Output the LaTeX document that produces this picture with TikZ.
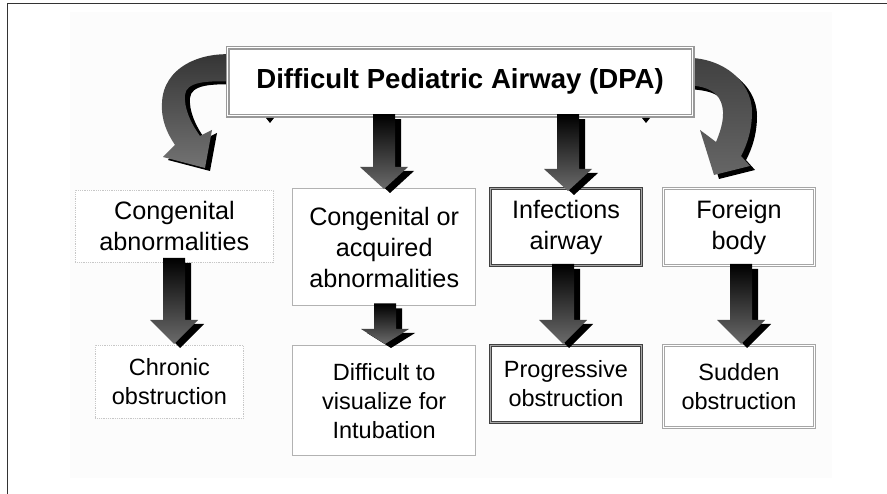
\documentclass[tikz,border=0pt]{standalone}
\usepackage{fontspec}
\setmainfont{Liberation Sans}
\usetikzlibrary{calc}
\tikzset{
 basebox/.style={rectangle, anchor=north west, align=center, inner sep=0pt, fill=white},
 faintbox/.style={basebox, draw=black!22, line width=0.8pt, densely dotted},
 greybox/.style={basebox, draw=black!30, line width=1.4pt},
 greydouble/.style={basebox, draw=black!35, double=white, double distance=1pt, line width=1pt},
 darkbox/.style={basebox, draw=black!75, double=black!35, double distance=1pt, line width=1pt},
 titlebox/.style={basebox, draw=black!40, double=white, double distance=1.5pt, line width=1.2pt},
 toptext/.style={font=\fontsize{25.2}{31}\selectfont},
 lowtext/.style={font=\fontsize{23.5}{29}\selectfont},
 arrowshade/.style={top color=black, bottom color=black!58},
 frameline/.style={draw=black!80, line width=1pt},
}
% block arrow: #1 x centre (pt), #2 from point, #3 to point (tip), #4 head length (pt)
\newcommand\blockarr[4]{%
 \fill[black] let \p1=(#2), \p2=(#3) in
   (#1pt-5pt,\y1-5pt) -- (#1pt+17pt,\y1-5pt) -- (#1pt+17pt,\y2+#4pt-4pt) -- (#1pt+30pt,\y2+#4pt-4pt)
   -- (#1pt+6pt,\y2-4pt) -- (#1pt-18pt,\y2+#4pt-4pt) -- (#1pt-5pt,\y2+#4pt-4pt) -- cycle;
 \shade[arrowshade] let \p1=(#2), \p2=(#3) in
   (#1pt-11pt,\y1) -- (#1pt+11pt,\y1) -- (#1pt+11pt,\y2+#4pt) -- (#1pt+24pt,\y2+#4pt)
   -- (#1pt,\y2) -- (#1pt-24pt,\y2+#4pt) -- (#1pt-11pt,\y2+#4pt) -- cycle;
}
\begin{document}
\begin{tikzpicture}[x=1pt,y=-1pt]
\useasboundingbox (0,0) rectangle (887,494);
\fill[white] (0,0) rectangle (887,494);
\fill[black!1] (70,12) rectangle (832,478);
\draw[frameline] (7,494) -- (7,4) -- (887,4);

% curved arrows (behind the title)
\fill[black] (245,58) .. controls (205,53) and (168,71) .. (167,106)
  .. controls (166,122) and (172,136) .. (180,147)
  -- (168,160) -- (210,171) -- (217,133) -- (205,139)
  .. controls (195,125) and (189,111) .. (190,98)
  .. controls (191,85) and (210,83) .. (245,85) -- cycle;
\shade[top color=black!80, bottom color=black!55] (240,55) .. controls (200,50) and (163,68) .. (162,103)
  .. controls (161,120) and (167,133) .. (175,145)
  -- (163,157) -- (205,168) -- (212,130) -- (200,136)
  .. controls (190,122) and (184,108) .. (185,95)
  .. controls (186,82) and (205,80) .. (240,82) -- cycle;

\fill[black] (680,62) .. controls (724,59) and (757,84) .. (757,116)
  .. controls (757,134) and (752,149) .. (746,160)
  -- (755,170) -- (719,179) -- (705,134) -- (721,147)
  .. controls (726,134) and (731,119) .. (726,106)
  .. controls (721,94) and (709,89) .. (680,89) -- cycle;
\shade[top color=black!75, bottom color=black!60] (680,58) .. controls (720,55) and (752,80) .. (752,112)
  .. controls (752,130) and (747,145) .. (741,156)
  -- (750,166) -- (714,175) -- (700,130) -- (716,142)
  .. controls (721,130) and (726,115) .. (721,102)
  .. controls (716,90) and (704,85) .. (680,85) -- cycle;

% title
\node[titlebox, minimum width=465pt, minimum height=68pt, font=\fontsize{27.6}{30}\selectfont\bfseries]
  (title) at (227,47) {Difficult Pediatric Airway (DPA)};
\fill[black] (266,118) -- (274,118) -- (270,123) -- cycle;
\fill[black] (642,118) -- (650,118) -- (646,123) -- cycle;

% first row
\node[faintbox, toptext, minimum width=198pt, minimum height=72pt] (congen) at (75,190)
  {Congenital\\abnormalities};
\node[greybox, toptext, minimum width=183pt, minimum height=117pt] (acq) at (292,188)
  {Congenital or\\acquired\\abnormalities};
\node[darkbox, toptext, minimum width=151pt, minimum height=77pt] (infect) at (490,188)
  {Infections\\airway};
\node[greydouble, toptext, minimum width=151pt, minimum height=77pt] (foreign) at (663,188)
  {Foreign\\body};

% second row
\node[faintbox, lowtext, minimum width=148pt, minimum height=73pt] (chronic) at (95,345)
  {Chronic\\obstruction};
\node[greybox, lowtext, minimum width=183pt, minimum height=110pt] (visual) at (292,345)
  {Difficult to\\visualize for\\Intubation};
\node[darkbox, lowtext, minimum width=151pt, minimum height=77pt] (progr) at (490,345)
  {Progressive\\obstruction};
\node[greydouble, lowtext, minimum width=151pt, minimum height=82pt] (sudden) at (663,345)
  {Sudden\\obstruction};

% straight block arrows
\blockarr{384}{$(title.south)+(0,-2)$}{$(acq.north)+(0,1)$}{22}
\blockarr{568}{$(title.south)+(0,-2)$}{$(infect.north)+(0,3)$}{22}
\blockarr{174}{$(congen.south)+(0,-5)$}{$(chronic.north)+(0,-1)$}{24}
\blockarr{385}{$(acq.south)+(0,-3)$}{$(visual.north)+(0,-1)$}{15}
\blockarr{563}{$(infect.south)+(0,-2)$}{$(progr.north)+(0,-1)$}{24}
\blockarr{741}{$(foreign.south)+(0,-2)$}{$(sudden.north)+(0,-1)$}{24}
\end{tikzpicture}
\end{document}
